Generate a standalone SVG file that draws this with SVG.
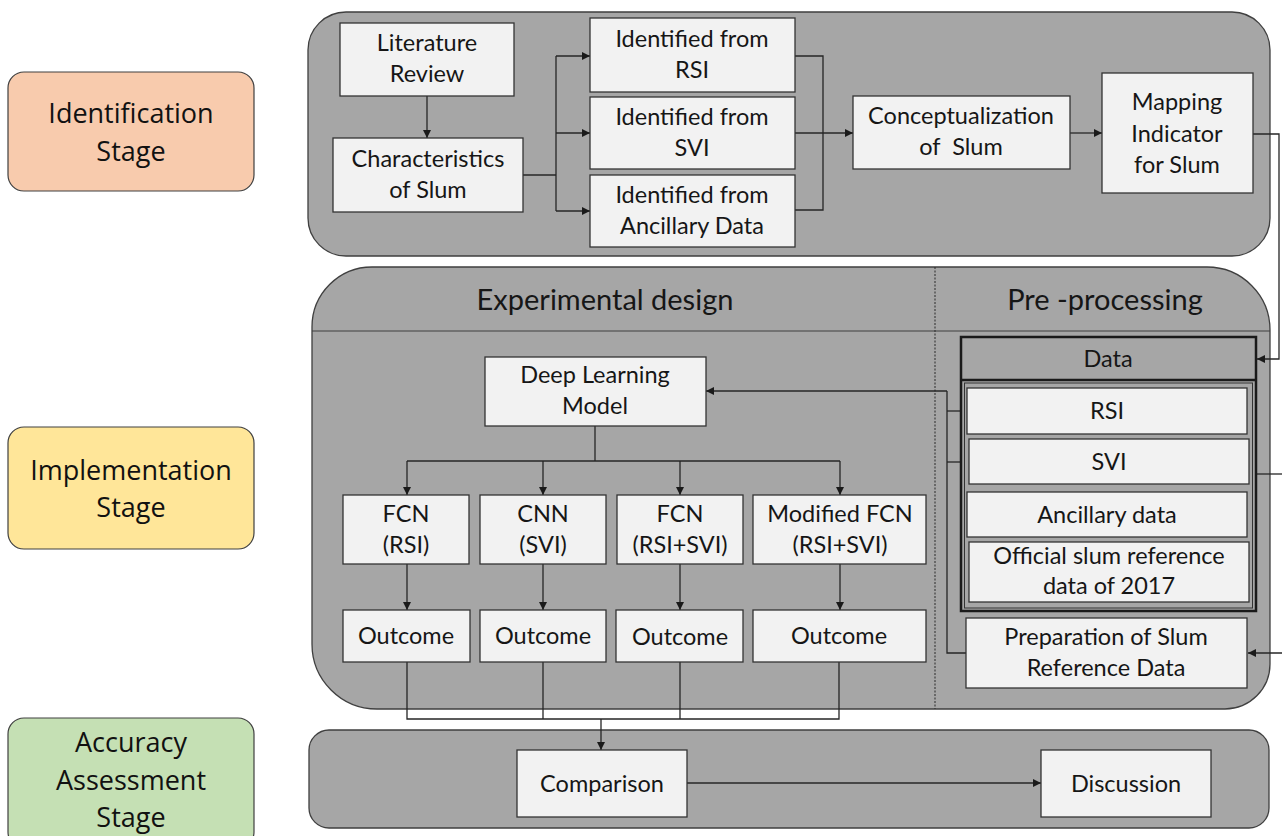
<svg xmlns="http://www.w3.org/2000/svg" width="1282" height="836" viewBox="0 0 1282 836">
  <style>
    .panel { fill: #a6a6a6; stroke: #3f3f3f; stroke-width: 1.3; }
    .box { fill: #f2f2f2; stroke: #333333; stroke-width: 1.3; }
    .t { font-family: Lato, "Open Sans", "Liberation Sans", sans-serif; font-size: 23.5px; fill: #161616; text-anchor: middle; white-space: pre; }
    .title { font-family: Lato, "Open Sans", "Liberation Sans", sans-serif; font-size: 29px; fill: #161616; text-anchor: middle; white-space: pre; }
    .stage { font-family: "Open Sans", "Liberation Sans", sans-serif; font-size: 27px; fill: #111111; text-anchor: middle; }
    .stageBox { stroke: #404040; stroke-width: 1.2; }
    .wire { fill: none; stroke: #262626; stroke-width: 1.3; }
  </style>
  <defs>
    <marker id="arrow" viewBox="0 0 10 10" refX="10" refY="5" markerWidth="8" markerHeight="8" markerUnits="userSpaceOnUse" orient="auto">
      <path d="M0,0 L10,5 L0,10 z" fill="#1a1a1a"/>
    </marker>
  </defs>

  <!-- Stage labels -->
  <g id="stage-identification">
    <rect class="stageBox" x="8" y="72" width="246" height="119" rx="16" fill="#f8cbad"/>
    <text class="stage" x="131" y="123">Identification</text>
    <text class="stage" x="131" y="161">Stage</text>
  </g>
  <g id="stage-implementation">
    <rect class="stageBox" x="8" y="427" width="246" height="122" rx="16" fill="#ffe699"/>
    <text class="stage" x="131" y="480">Implementation</text>
    <text class="stage" x="131" y="517">Stage</text>
  </g>
  <g id="stage-accuracy">
    <rect class="stageBox" x="8" y="718" width="246" height="130" rx="16" fill="#c5e0b4"/>
    <text class="stage" x="131" y="752">Accuracy</text>
    <text class="stage" x="131" y="790">Assessment</text>
    <text class="stage" x="131" y="827">Stage</text>
  </g>

  <!-- Container panels -->
  <g id="panel-identification">
    <rect class="panel" x="308" y="12" width="962" height="244" rx="38"/>
  </g>
  <g id="panel-implementation">
    <path class="panel" d="M372,267 H1207 A63,63 0 0 1 1270,330 V664 A45,45 0 0 1 1225,709 H377 A65,65 0 0 1 312,644 V327 A60,60 0 0 1 372,267 Z"/>
    <line x1="312" y1="331" x2="1270" y2="331" stroke="#3f3f3f" stroke-width="1.2"/>
    <line x1="935" y1="267" x2="935" y2="709" stroke="#2a2a2a" stroke-width="1" stroke-dasharray="2,1.5"/>
    <text class="title" x="605" y="310">Experimental design</text>
    <text class="title" x="1105" y="310">Pre -processing</text>
  </g>
  <g id="panel-accuracy">
    <rect class="panel" x="309" y="730" width="960" height="98" rx="20"/>
  </g>

  <!-- Connectors -->
  <g id="connectors">
    <line class="wire" x1="427" y1="96" x2="427" y2="138" marker-end="url(#arrow)"/>
    <line class="wire" x1="523" y1="175" x2="556" y2="175" stroke-width="2.2"/>
    <line class="wire" x1="556" y1="56" x2="556" y2="211"/>
    <line class="wire" x1="556" y1="56" x2="590" y2="56" marker-end="url(#arrow)"/>
    <line class="wire" x1="556" y1="133" x2="590" y2="133" marker-end="url(#arrow)"/>
    <line class="wire" x1="556" y1="211" x2="590" y2="211" marker-end="url(#arrow)"/>
    <polyline class="wire" points="795,56 823,56 823,210 795,210"/>
    <line class="wire" x1="795" y1="133" x2="853" y2="133" marker-end="url(#arrow)"/>
    <line class="wire" x1="1070" y1="133" x2="1102" y2="133" marker-end="url(#arrow)"/>
    <polyline class="wire" points="1253,134 1279,134 1279,359 1257,359" marker-end="url(#arrow)"/>

    <line class="wire" x1="947" y1="391" x2="706" y2="391" marker-end="url(#arrow)"/>
    <polyline class="wire" points="947,391 947,653 966,653"/>
    <line class="wire" x1="947" y1="411" x2="967" y2="411"/>
    <line class="wire" x1="947" y1="462" x2="969" y2="462"/>
    <line class="wire" x1="1256" y1="474" x2="1282" y2="474"/>
    <line class="wire" x1="1282" y1="653" x2="1248" y2="653" marker-end="url(#arrow)"/>

    <line class="wire" x1="595" y1="426" x2="595" y2="461"/>
    <line class="wire" x1="407" y1="461" x2="840" y2="461"/>
    <line class="wire" x1="407" y1="461" x2="407" y2="495" marker-end="url(#arrow)"/>
    <line class="wire" x1="543" y1="461" x2="543" y2="495" marker-end="url(#arrow)"/>
    <line class="wire" x1="680" y1="461" x2="680" y2="495" marker-end="url(#arrow)"/>
    <line class="wire" x1="840" y1="461" x2="840" y2="495" marker-end="url(#arrow)"/>

    <line class="wire" x1="407" y1="564" x2="407" y2="610" marker-end="url(#arrow)"/>
    <line class="wire" x1="543" y1="564" x2="543" y2="610" marker-end="url(#arrow)"/>
    <line class="wire" x1="680" y1="564" x2="680" y2="610" marker-end="url(#arrow)"/>
    <line class="wire" x1="840" y1="564" x2="840" y2="610" marker-end="url(#arrow)"/>

    <polyline class="wire" points="407,662 407,719 839,719 839,662" stroke="#555555"/>
    <line class="wire" x1="543" y1="662" x2="543" y2="719" stroke="#555555"/>
    <line class="wire" x1="680" y1="662" x2="680" y2="719" stroke="#555555"/>
    <line class="wire" x1="601" y1="719" x2="601" y2="750" marker-end="url(#arrow)"/>

    <line class="wire" x1="687" y1="783" x2="1041" y2="783" marker-end="url(#arrow)"/>
  </g>

  <!-- Identification stage nodes -->
  <g id="literature-review">
    <rect class="box" x="340" y="23" width="174" height="73"/>
    <text class="t" x="427" y="51">Literature</text>
    <text class="t" x="427" y="82">Review</text>
  </g>
  <g id="characteristics">
    <rect class="box" x="333" y="138" width="190" height="74"/>
    <text class="t" x="428" y="167">Characteristics</text>
    <text class="t" x="428" y="198">of Slum</text>
  </g>
  <g id="ident-rsi">
    <rect class="box" x="590" y="18" width="205" height="74"/>
    <text class="t" x="692" y="47">Identified from</text>
    <text class="t" x="692" y="78">RSI</text>
  </g>
  <g id="ident-svi">
    <rect class="box" x="590" y="97" width="205" height="72"/>
    <text class="t" x="692" y="125">Identified from</text>
    <text class="t" x="692" y="156">SVI</text>
  </g>
  <g id="ident-ancillary">
    <rect class="box" x="590" y="175" width="205" height="72"/>
    <text class="t" x="692" y="203">Identified from</text>
    <text class="t" x="692" y="234">Ancillary Data</text>
  </g>
  <g id="conceptualization">
    <rect class="box" x="853" y="96" width="217" height="73"/>
    <text class="t" x="961" y="124">Conceptualization</text>
    <text class="t" x="961" y="155">of  Slum</text>
  </g>
  <g id="mapping-indicator">
    <rect class="box" x="1102" y="73" width="151" height="120"/>
    <text class="t" x="1177" y="110">Mapping</text>
    <text class="t" x="1177" y="142">Indicator</text>
    <text class="t" x="1177" y="173">for Slum</text>
  </g>

  <!-- Pre-processing nodes -->
  <g id="data">
    <rect x="961" y="337" width="295" height="274" fill="#a6a6a6" stroke="#1a1a1a" stroke-width="2.5"/>
    <line x1="961" y1="380" x2="1256" y2="380" stroke="#1a1a1a" stroke-width="2.5"/>
    <rect x="964.5" y="383" width="288" height="225" fill="none" stroke="#333333" stroke-width="1"/>
    <text class="t" x="1108" y="367">Data</text>
  </g>
  <g id="data-rsi">
    <rect class="box" x="967" y="388" width="280" height="46"/>
    <text class="t" x="1107" y="419">RSI</text>
  </g>
  <g id="data-svi">
    <rect class="box" x="969" y="439" width="280" height="45"/>
    <text class="t" x="1109" y="470">SVI</text>
  </g>
  <g id="data-ancillary">
    <rect class="box" x="967" y="492" width="280" height="45"/>
    <text class="t" x="1107" y="523">Ancillary data</text>
  </g>
  <g id="data-official">
    <rect class="box" x="969" y="542" width="280" height="60"/>
    <text class="t" x="1109" y="564">Official slum reference</text>
    <text class="t" x="1109" y="594">data of 2017</text>
  </g>
  <g id="preparation">
    <rect class="box" x="966" y="618" width="281" height="70"/>
    <text class="t" x="1106" y="645">Preparation of Slum</text>
    <text class="t" x="1106" y="676">Reference Data</text>
  </g>

  <!-- Experimental design nodes -->
  <g id="deep-learning-model">
    <rect class="box" x="485" y="357" width="221" height="69"/>
    <text class="t" x="595" y="383">Deep Learning</text>
    <text class="t" x="595" y="414">Model</text>
  </g>
  <g id="fcn-rsi">
    <rect class="box" x="343" y="495" width="126" height="69"/>
    <text class="t" x="406" y="522">FCN</text>
    <text class="t" x="406" y="553">(RSI)</text>
  </g>
  <g id="cnn-svi">
    <rect class="box" x="480" y="495" width="126" height="69"/>
    <text class="t" x="543" y="522">CNN</text>
    <text class="t" x="543" y="553">(SVI)</text>
  </g>
  <g id="fcn-rsi-svi">
    <rect class="box" x="617" y="495" width="126" height="69"/>
    <text class="t" x="680" y="522">FCN</text>
    <text class="t" x="680" y="553">(RSI+SVI)</text>
  </g>
  <g id="modified-fcn">
    <rect class="box" x="753" y="495" width="173" height="69"/>
    <text class="t" x="840" y="522">Modified FCN</text>
    <text class="t" x="840" y="553">(RSI+SVI)</text>
  </g>
  <g id="outcome-1">
    <rect class="box" x="343" y="610" width="127" height="52"/>
    <text class="t" x="406" y="644">Outcome</text>
  </g>
  <g id="outcome-2">
    <rect class="box" x="480" y="610" width="126" height="52"/>
    <text class="t" x="543" y="644">Outcome</text>
  </g>
  <g id="outcome-3">
    <rect class="box" x="616" y="610" width="127" height="52"/>
    <text class="t" x="680" y="645">Outcome</text>
  </g>
  <g id="outcome-4">
    <rect class="box" x="753" y="610" width="173" height="52"/>
    <text class="t" x="839" y="644">Outcome</text>
  </g>

  <!-- Accuracy assessment nodes -->
  <g id="comparison">
    <rect class="box" x="517" y="750" width="170" height="67"/>
    <text class="t" x="602" y="792">Comparison</text>
  </g>
  <g id="discussion">
    <rect class="box" x="1041" y="750" width="170" height="67"/>
    <text class="t" x="1126" y="792">Discussion</text>
  </g>
</svg>
